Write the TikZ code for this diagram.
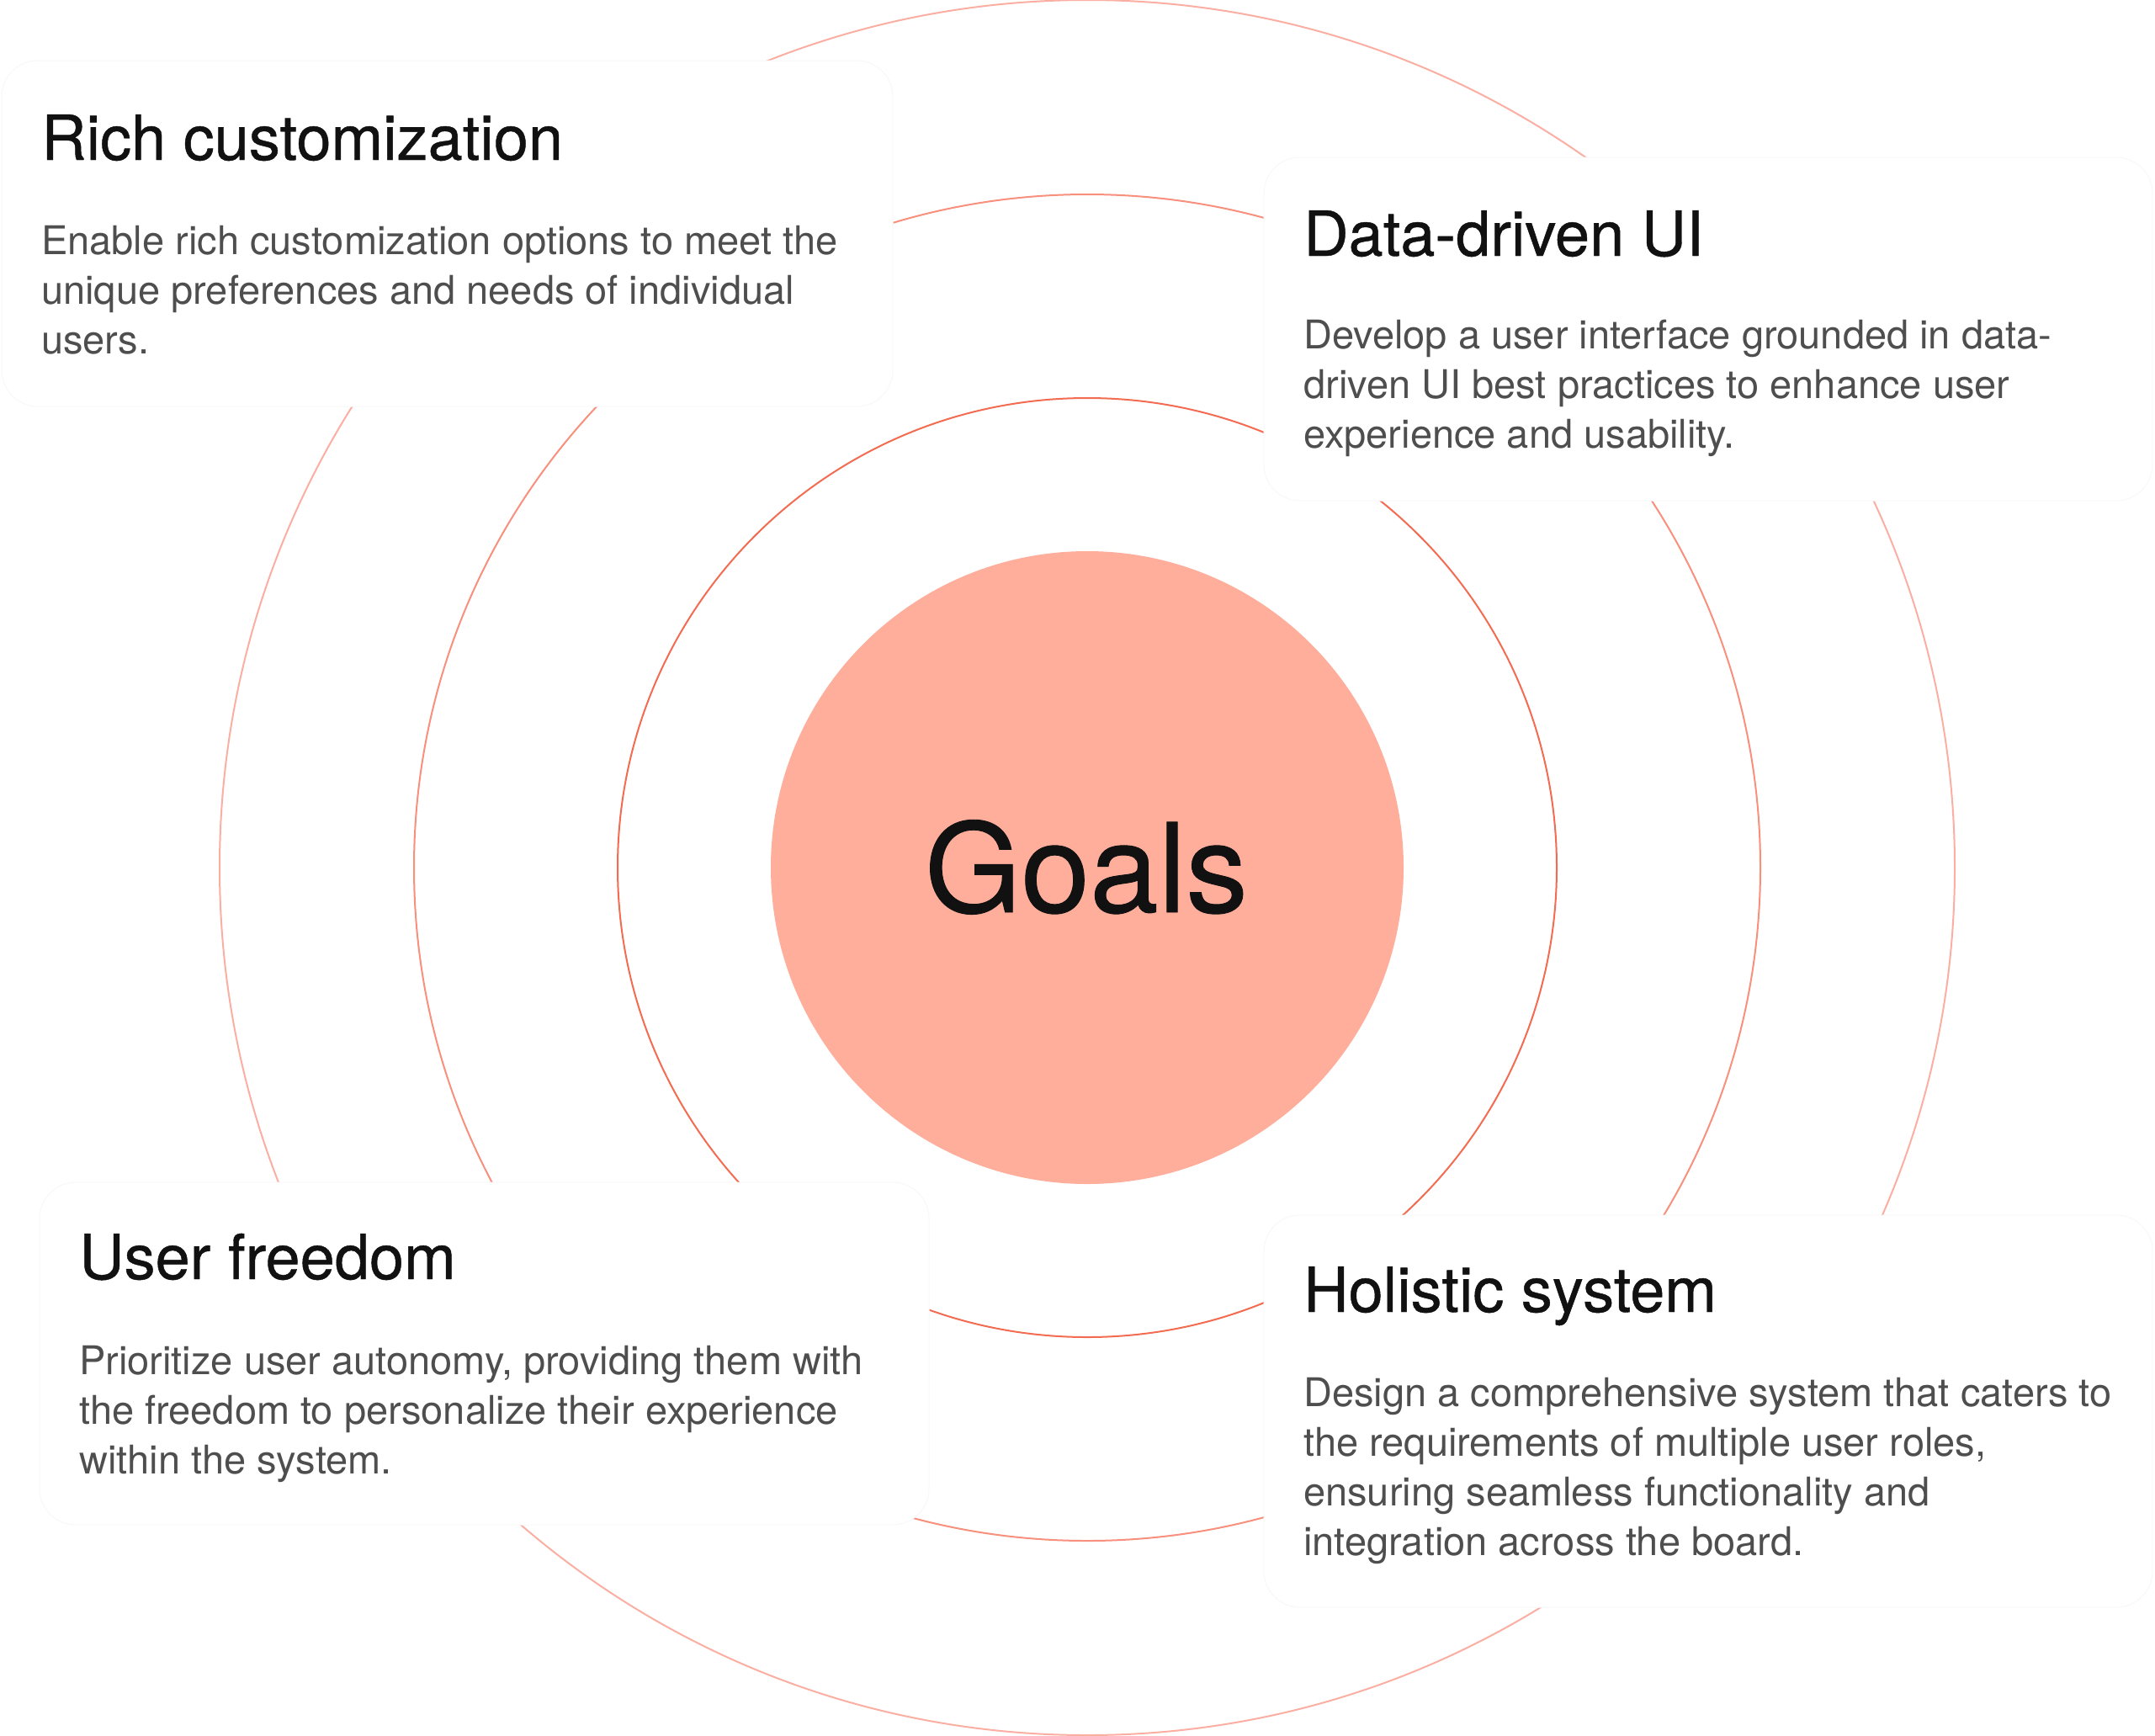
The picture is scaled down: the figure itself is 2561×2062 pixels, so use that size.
\documentclass[tikz,border=0pt]{standalone}
\usepackage{fontspec}
\setmainfont{TeX Gyre Heros}
\newfontfamily\medfont[FakeBold=0.6]{TeX Gyre Heros}
\definecolor{ringA}{HTML}{F36C52}
\definecolor{ringB}{HTML}{F8907D}
\definecolor{ringC}{HTML}{FBAFA2}
\definecolor{goalfill}{HTML}{FFAE9C}
\definecolor{titlecol}{HTML}{111111}
\definecolor{bodycol}{HTML}{4E4E4E}
\definecolor{cardline}{HTML}{F8F8F8}
\tikzset{
  ringline/.style={line width=2pt},
  cardbox/.style={fill=white, draw=cardline, line width=1pt, rounded corners=43pt},
  cardtitle/.style={anchor=base west, inner sep=0pt, text=titlecol, font=\medfont\fontsize{74}{80}\selectfont},
  cardbody/.style={anchor=base west, inner sep=0pt, text=bodycol, font=\fontsize{47}{59}\selectfont},
}
\begin{document}
\begin{tikzpicture}[x=1pt,y=-1pt]
\useasboundingbox (0,0) rectangle (2561,2062);
\fill[white] (0,0) rectangle (2561,2062);
\coordinate (c) at (1292,1031);
% rings
\draw[ringline, ringC] (c) circle[radius=1031pt];
\draw[ringline, ringB] (c) circle[radius=800pt];
\draw[ringline, ringA] (c) circle[radius=558pt];
% centre
\node[circle, fill=goalfill, minimum size=752pt, inner sep=0pt] (goal) at (c) {};
\node[anchor=base, inner sep=0pt, text=titlecol, font=\medfont\fontsize{147}{150}\selectfont] (goaltext) at (1291,1084) {Goals};
% cards
\draw[cardbox] (2,72) rectangle (1061,483);
\draw[cardbox] (1502,187) rectangle (2558,595);
\draw[cardbox] (47,1405) rectangle (1104,1812);
\draw[cardbox] (1502,1444) rectangle (2558,1910);
% card 1
\node[cardtitle] (t1) at (49,190) {Rich customization};
\node[cardbody] (b1a) at (49,302) {Enable rich customization options to meet the};
\node[cardbody] (b1b) at (49,361) {unique preferences and needs of individual};
\node[cardbody] (b1c) at (49,420) {users.};
% card 2
\node[cardtitle] (t2) at (1549,304) {Data-driven UI};
\node[cardbody] (b2a) at (1549,414) {Develop a user interface grounded in data-};
\node[cardbody] (b2b) at (1549,473) {driven UI best practices to enhance user};
\node[cardbody] (b2c) at (1549,532) {experience and usability.};
% card 3
\node[cardtitle] (t3) at (94,1520) {User freedom};
\node[cardbody] (b3a) at (94,1633) {Prioritize user autonomy, providing them with};
\node[cardbody] (b3b) at (94,1692) {the freedom to personalize their experience};
\node[cardbody] (b3c) at (94,1751) {within the system.};
% card 4
\node[cardtitle] (t4) at (1549,1559) {Holistic system};
\node[cardbody] (b4a) at (1549,1671) {Design a comprehensive system that caters to};
\node[cardbody] (b4b) at (1549,1730) {the requirements of multiple user roles,};
\node[cardbody] (b4c) at (1549,1789) {ensuring seamless functionality and};
\node[cardbody] (b4d) at (1549,1848) {integration across the board.};
\end{tikzpicture}
\end{document}
